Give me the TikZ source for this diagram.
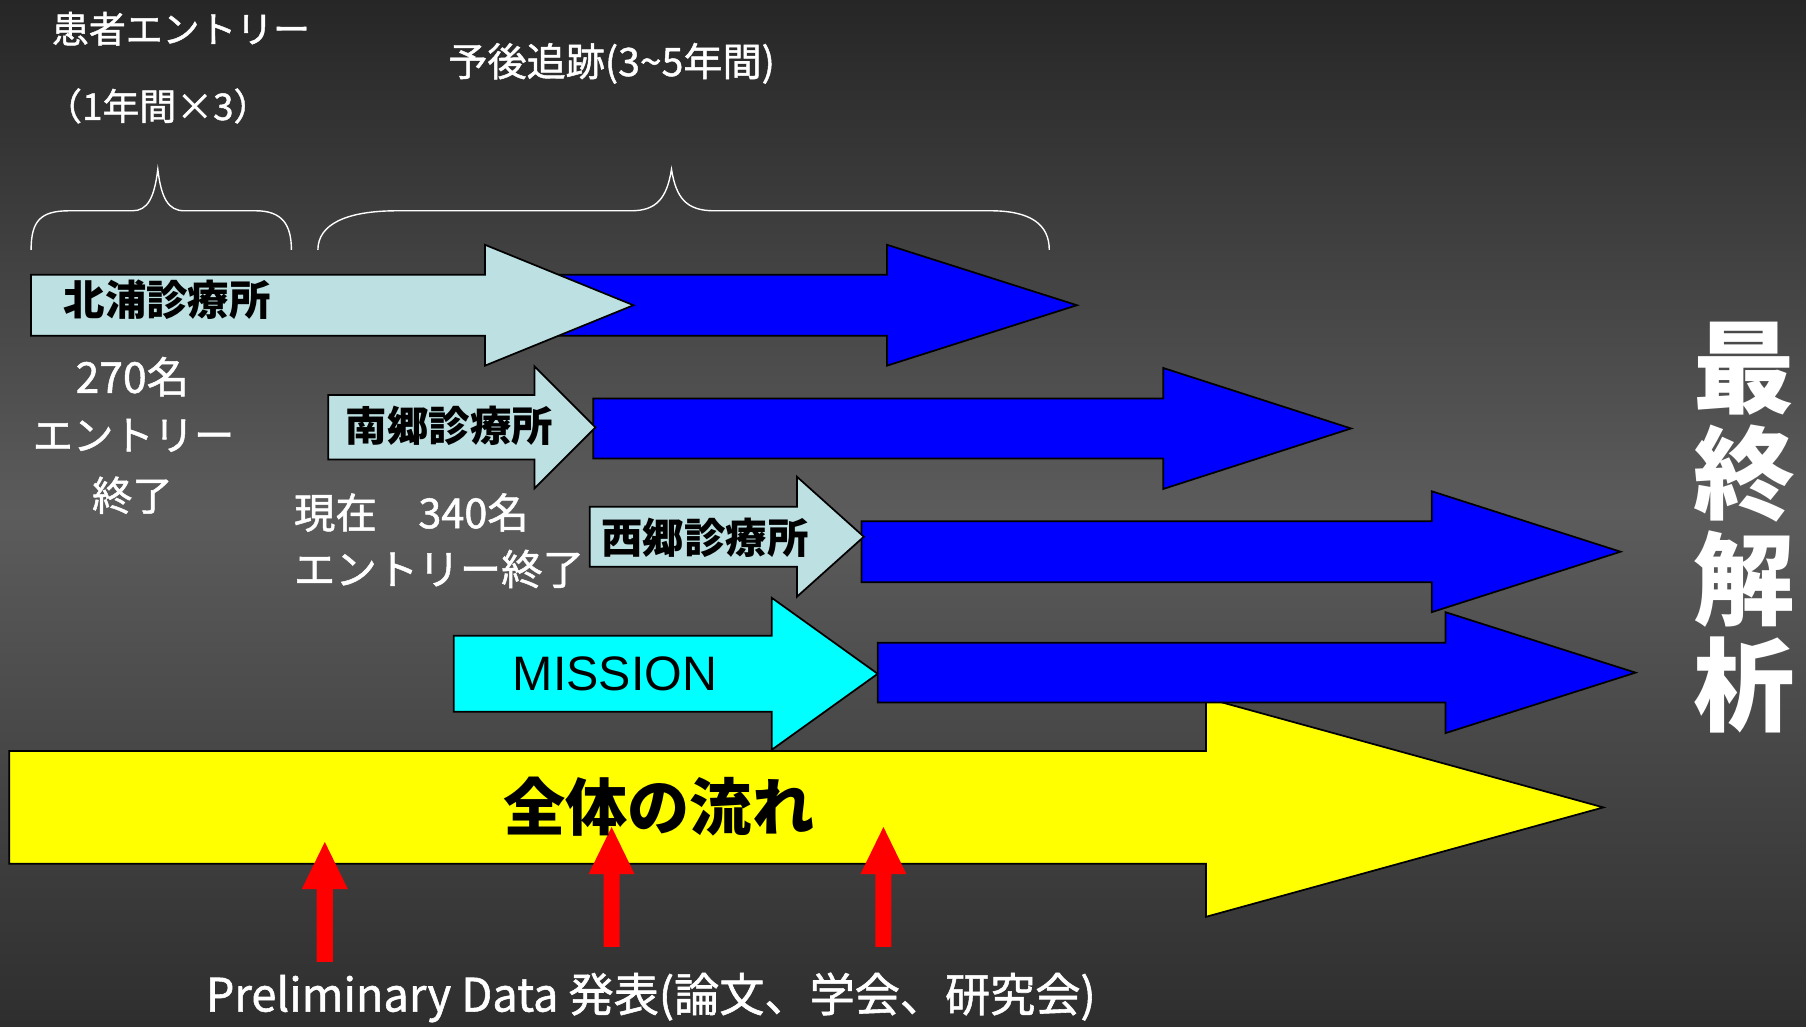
\documentclass[tikz,border=0pt]{standalone}
\usepackage{fontspec}
\setmainfont{Noto Sans CJK JP}
\newfontfamily\medfont[FakeBold=1.2]{Noto Sans CJK JP}
\newfontfamily\arialfont{Liberation Sans}
\definecolor{bgtop}{HTML}{262626}
\definecolor{bgmid}{HTML}{5C5C5C}
\definecolor{bgbot}{HTML}{2E2E2E}
\definecolor{pale}{HTML}{BDE0E3}
\definecolor{cyanf}{HTML}{00FFFF}
\definecolor{yellowf}{HTML}{FFFF00}
\definecolor{bluef}{HTML}{0000FF}
\definecolor{redf}{HTML}{FF0000}
\newcommand\blockarr[7]{\filldraw[#1] (#2,{#5-#6}) -- (#3,{#5-#6}) -- (#3,{#5-#7}) -- (#4,#5) -- (#3,{#5+#7}) -- (#3,{#5+#6}) -- (#2,{#5+#6}) -- cycle;}
\newcommand\redup[4]{\fill[redf] ({#1-7},#2) -- ({#1-7},#3) -- ({#1-20},#3) -- (#1,#4) -- ({#1+20},#3) -- ({#1+7},#3) -- ({#1+7},#2) -- cycle;}
\begin{document}
\begin{tikzpicture}[x=1pt,y=-1pt,
  outl/.style={draw=black,line width=1.5pt,line join=miter},
  wl/.style={text=white,inner sep=0pt,font=\medfont\fontsize{#1}{#1}\selectfont},
  bl/.style={text=black,inner sep=0pt,font=\bfseries\fontsize{#1}{#1}\selectfont},
  brace/.style={draw=white,line width=1.2pt}]
\useasboundingbox (0,0) rectangle (1568,891);
\shade[top color=bgtop,bottom color=bgbot,middle color=bgmid] (0,0) rectangle (1568,891);
% braces
\draw[brace] (27,217) .. controls (27,192) and (35,183) .. (60,183) -- (115,183) .. controls (128,183) and (134,172) .. (137,147) .. controls (140,172) and (146,183) .. (160,183) -- (222,183) .. controls (245,183) and (253,195) .. (253,217);
\draw[brace] (276,217) .. controls (276,195) and (300,183) .. (345,183) -- (548,183) .. controls (570,183) and (579,172) .. (583,147) .. controls (587,172) and (596,183) .. (620,183) -- (860,183) .. controls (895,183) and (911,195) .. (911,217);
% yellow flow arrow
\blockarr{outl,fill=yellowf}{8}{1047}{1392}{701}{49}{95}
% blue follow-up arrows
\blockarr{outl,fill=bluef}{480}{770}{935}{265}{26.5}{52.5}
\blockarr{outl,fill=bluef}{515}{1010}{1173}{372}{26}{52.5}
\blockarr{outl,fill=bluef}{748}{1243}{1407}{479}{26.5}{52.5}
\blockarr{outl,fill=bluef}{762}{1255}{1420}{584}{26}{52.5}
% entry arrows
\blockarr{outl,fill=pale}{27}{421}{550}{265}{26.5}{52.5}
\blockarr{outl,fill=pale}{285}{464}{517}{371}{28}{53}
\blockarr{outl,fill=pale}{512}{692}{750}{466}{26}{52}
\blockarr{outl,fill=cyanf}{394}{670}{762}{585}{33}{66}
% red arrows
\redup{282}{835}{772}{731}
\redup{531}{822}{759}{718}
\redup{767}{822}{759}{718}
% texts
\node[wl=32,anchor=west] (entry) at (45,25) {患者エントリー};
\node[wl=32] (entryyr) at (137,92) {（1年間×3）};
\node[wl=34] (follow) at (531,55) {予後追跡(3\textasciitilde5年間)};
\node[bl=36,anchor=west] (kitaura) at (55,260) {北浦診療所};
\node[bl=36,anchor=west] (nango) at (300,370) {南郷診療所};
\node[bl=36,anchor=west] (saigo) at (522,467) {西郷診療所};
\node[text=black,inner sep=0pt,font=\arialfont\fontsize{42}{42}\selectfont,anchor=west] (mission) at (445,585) {MISSION};
\node[wl=37] (n270) at (115,327) {270名};
\node[wl=35] (n270b) at (116,378) {エントリー};
\node[wl=35] (n270c) at (115,430) {終了};
\node[wl=36,anchor=west] (n340) at (255,445) {現在　340名};
\node[wl=36,anchor=west] (n340b) at (255,494) {エントリー終了};
\node[bl=54] (flow) at (572,700) {全体の流れ};
\node[text=white,inner sep=0pt,font=\bfseries\fontsize{88}{92}\selectfont,align=center] (final) at (1514,458) {最\\終\\解\\析};
\node[wl=40,xscale=0.98] (prelim) at (565,866) {Preliminary Data 発表(論文、学会、研究会)};
\end{tikzpicture}
\end{document}
